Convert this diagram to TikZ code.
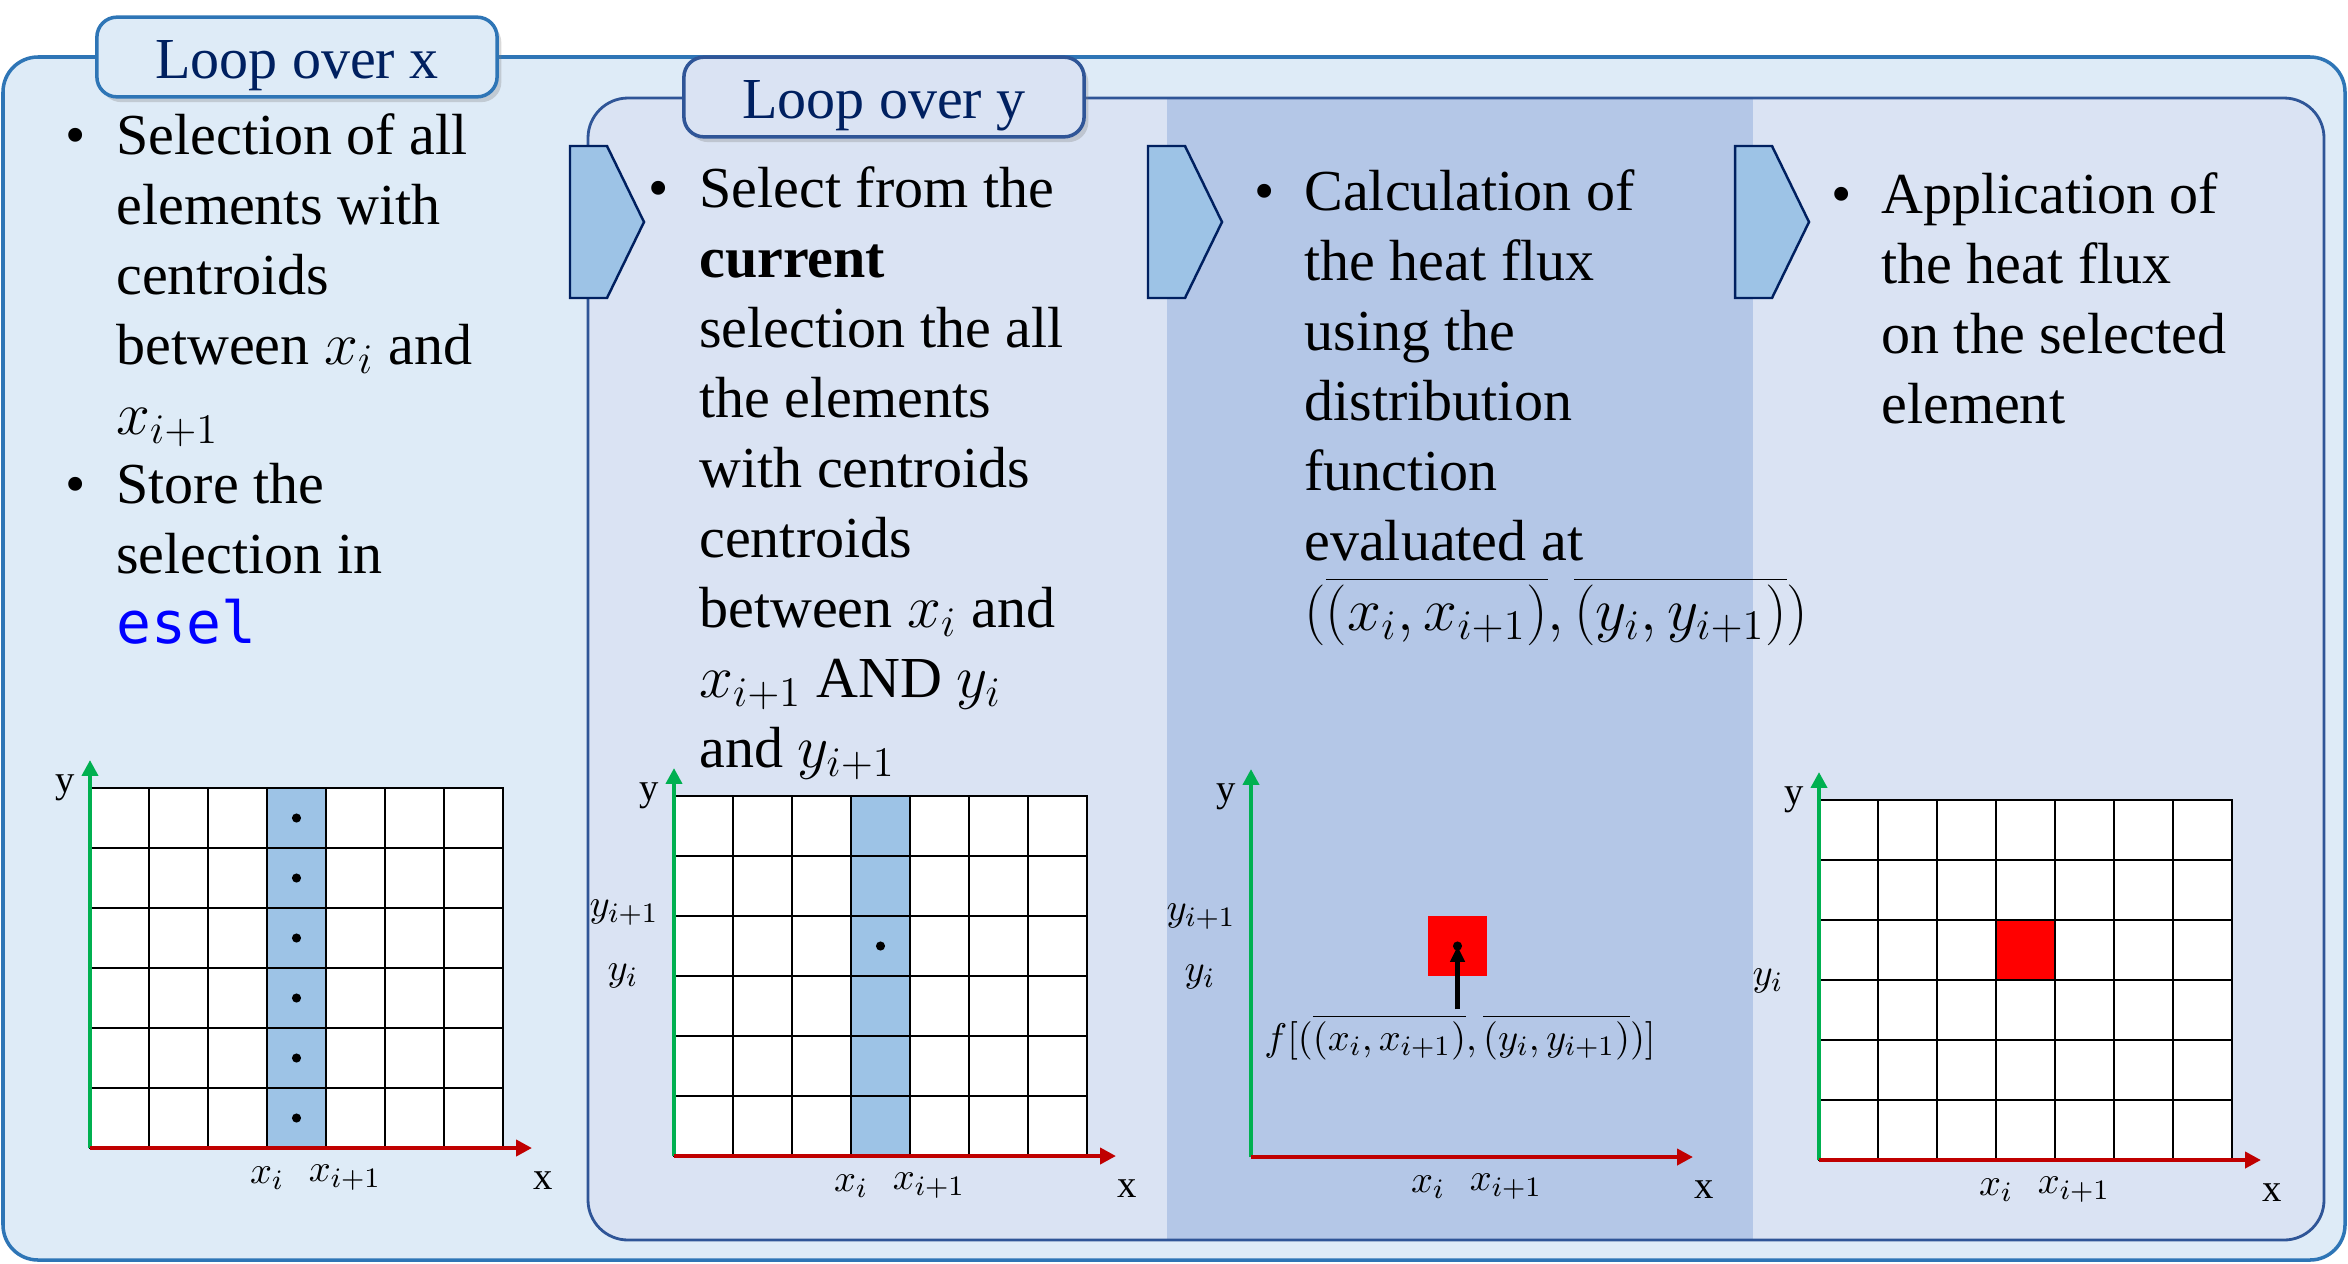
\documentclass[tikz,border=0pt]{standalone}
\usepackage{fontspec}
\setmainfont{Liberation Serif}
\newfontfamily\codefont{DejaVu Sans Mono}
\usetikzlibrary{arrows.meta,shadows}
\definecolor{outerfill}{HTML}{DEEBF7}
\definecolor{outerline}{HTML}{2E75B6}
\definecolor{innerfill}{HTML}{DAE3F3}
\definecolor{innerline}{HTML}{2F5597}
\definecolor{midfill}{HTML}{B4C7E7}
\definecolor{selblue}{HTML}{9DC3E6}
\definecolor{navy}{HTML}{002060}
\definecolor{axgreen}{HTML}{00B050}
\definecolor{axred}{HTML}{C00000}
\definecolor{eselblue}{HTML}{0000FF}
\newcommand\txtfont{\fontsize{16.5}{19.9}\selectfont}
\newcommand\lblfont{\fontsize{11}{13}\selectfont}

\begin{document}
\begin{tikzpicture}[x=0.01cm,y=-0.01cm,line width=0.8pt,>=Stealth,
  body/.style={anchor=base west,inner sep=0pt,font=\txtfont},
  bul/.style={anchor=base,inner sep=0pt,font=\txtfont},
  tab/.style={rounded corners=0.2cm,line width=1pt,minimum width=4cm,
    minimum height=0.74cm,text height=14pt,text depth=2pt,font=\txtfont,text=navy,
    drop shadow={opacity=0.3,shadow xshift=1.2pt,shadow yshift=-1.5pt}},
  chev/.style={fill=selblue,draw=navy,line width=0.7pt},
  cell/.style={fill=white,draw=black,line width=0.6pt},
  yax/.style={draw=axgreen,line width=1.2pt,-{Triangle[length=4.5pt,width=4.5pt]}},
  xax/.style={draw=axred,line width=1.2pt,-{Triangle[length=4.5pt,width=4.5pt]}},
  lbl/.style={font=\lblfont,inner sep=1pt}]
\useasboundingbox (0,0) rectangle (2348,1263);
% frames
\draw[fill=outerfill,draw=outerline,line width=1pt,rounded corners=0.35cm]
  (3,57) rectangle (2345,1260);
\node[tab,fill=outerfill,draw=outerline] (loopx) at (297,57) {Loop over x};
\fill[innerfill,rounded corners=0.4cm] (588,98) rectangle (2324,1240);
\fill[midfill] (1167,98) rectangle (1753,1240);
\draw[innerline,rounded corners=0.4cm] (588,98) rectangle (2324,1240);
\node[tab,fill=innerfill,draw=innerline] (loopy) at (884,97) {Loop over y};
% step arrows
\newcommand\chev[1]{\draw[chev] (#1,146) -- ++(37,0) -- ++(37,76) -- ++(-37,76)
  -- ++(-37,0) -- cycle;}
\chev{570} \chev{1148} \chev{1735}
% texts
\node[bul] (b1) at (76,154) {\textbullet};
\foreach \t [count=\k from 0] in {Selection of all,elements with,centroids,
    between $x_i$ and,$x_{i+1}$}
  \node[body] (a\k) at (115,{154+70*\k}) {\t};
\node[bul] (b2) at (76,503) {\textbullet};
\foreach \t [count=\k from 0] in {Store the,selection in,
    {\textcolor{eselblue}{\codefont esel}}}
  \node[body] (s\k) at (115,{503+70*\k}) {\t};
\node[bul] (b3) at (659,207) {\textbullet};
\foreach \t [count=\k from 0] in {Select from the,\textbf{current},selection the all,
    the elements,with centroids,centroids,between $x_i$ and,$x_{i+1}$ AND $y_i$,
    and $y_{i+1}$}
  \node[body] (c\k) at (698,{207+70*\k}) {\t};
\node[bul] (b4) at (1265,210) {\textbullet};
\foreach \t [count=\k from 0] in {Calculation of,the heat flux,using the,distribution,
    function,evaluated at,
    {$\bigl(\overline{(x_i,x_{i+1})},\overline{(y_i,y_{i+1})}\bigr)$}}
  \node[body] (d\k) at (1303,{210+70*\k}) {\t};
\node[bul] (b5) at (1842,213) {\textbullet};
\foreach \t [count=\k from 0] in {Application of,the heat flux,on the selected,element}
  \node[body] (e\k) at (1880,{213+70*\k}) {\t};
% meshes and axes
\newcommand\mesh[2]{{%
  \foreach \c in {0,...,6}{\foreach \r in {0,...,5}{%
    \draw[cell] ({#1+59*\c},{#2-60*\r}) rectangle ++(59,-60);}}}}
\newcommand\axes[3]{{%
  \coordinate (#1o) at (#2,#3);
  \draw[yax] (#1o) -- ++(0,-388) coordinate (#1yt);
  \draw[xax] (#1o) -- ++(442,0) coordinate (#1xt);
  \node[lbl] (#1y) at ([shift={(-25,-360)}]#1o) {y};
  \node[lbl] (#1x) at ([shift={(453,33)}]#1o) {x};
  \node[lbl] (#1xi) at ([shift={(177,30)}]#1o) {$x_i$};
  \node[lbl] (#1xj) at ([shift={(255,30)}]#1o) {$x_{i+1}$};}}
\mesh{90}{1148}
\foreach \r in {0,...,5}{
  \draw[cell,fill=selblue] (267,{1148-60*\r}) rectangle ++(59,-60);
  \fill (296.5,{1118-60*\r}) circle (1.3pt);}
\axes{g}{90}{1148}
\mesh{674}{1156}
\foreach \r in {0,...,5}
  \draw[cell,fill=selblue] (851,{1156-60*\r}) rectangle ++(59,-60);
\fill (880.5,946) circle (1.3pt);
\axes{h}{674}{1156}
\node[lbl] (hyj) at ([shift={(-50,-243)}]ho) {$y_{i+1}$};
\node[lbl] (hyi) at ([shift={(-51,-180)}]ho) {$y_i$};
\fill[red] (1428,976) rectangle ++(59,-60);
\coordinate (fdot) at (1457.5,946);
\fill (fdot) circle (1.3pt);
\axes{k}{1251}{1157}
\node[lbl] (kyj) at ([shift={(-50,-240)}]ko) {$y_{i+1}$};
\node[lbl] (kyi) at ([shift={(-51,-180)}]ko) {$y_i$};
\node[lbl] (flab) at (1460,1037)
  {$f\bigl[\bigl(\overline{(x_i,x_{i+1})},\overline{(y_i,y_{i+1})}\bigr)\bigr]$};
\draw[line width=1.3pt,-{Triangle[length=4.5pt,width=4pt]}] (flab.north -| fdot) -- (fdot);
\mesh{1819}{1160}
\draw[cell,fill=red] (1996,980) rectangle ++(59,-60);
\axes{m}{1819}{1160}
\node[lbl] (myi) at ([shift={(-51,-179)}]mo) {$y_i$};
\end{tikzpicture}
\end{document}
